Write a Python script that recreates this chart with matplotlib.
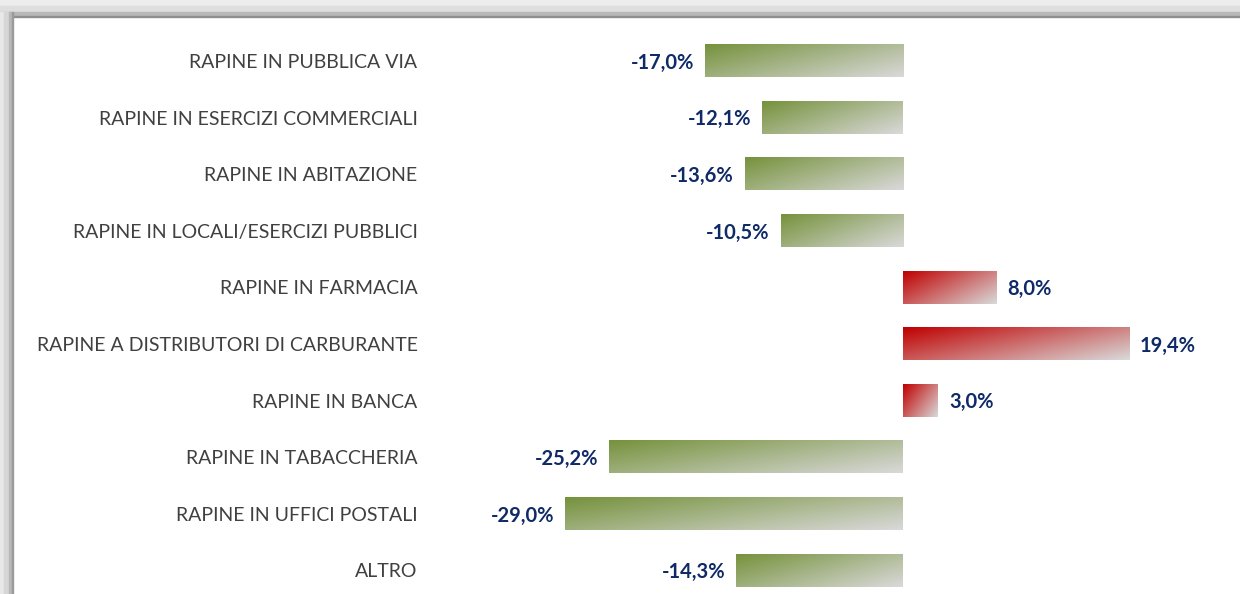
import numpy as np
import matplotlib.pyplot as plt
from matplotlib.colors import LinearSegmentedColormap
from matplotlib.patches import Rectangle

# --- dati ---
categorie = [
    "RAPINE IN PUBBLICA VIA",
    "RAPINE IN ESERCIZI COMMERCIALI",
    "RAPINE IN ABITAZIONE",
    "RAPINE IN LOCALI/ESERCIZI PUBBLICI",
    "RAPINE IN FARMACIA",
    "RAPINE A DISTRIBUTORI DI CARBURANTE",
    "RAPINE IN BANCA",
    "RAPINE IN TABACCHERIA",
    "RAPINE IN UFFICI POSTALI",
    "ALTRO",
]
variazioni = [-17.0, -12.1, -13.6, -10.5, 8.0, 19.4, 3.0, -25.2, -29.0, -14.3]

VERDE = "#76923c"
ROSSO = "#c00000"
GRIGIO = "#d9d9d9"
BLU = "#0f2a66"

plt.rcParams["font.family"] = ["Lato", "DejaVu Sans"]

fig = plt.figure(figsize=(12.4, 5.94), dpi=100)
fig.patch.set_facecolor("white")

# --- cornice ombreggiata (alto e sinistra) ---
W, H = 1240, 594
bande_top = [(0, 6, "#ececec"), (6, 12, "#dedede"), (12, 16, "#b8b8b8"), (16, 17, "#8f8f8f")]
for y0, y1, c in bande_top:
    fig.patches.append(Rectangle((0, 1 - y1 / H), 1, (y1 - y0) / H,
                                 transform=fig.transFigure, color=c, zorder=0))
bande_left = [(0, 4, "#e8e8e8"), (4, 9, "#d6d6d6"), (9, 12, "#b8b8b8"), (12, 13, "#9a9a9a")]
for x0, x1, c in bande_left:
    fig.patches.append(Rectangle((x0 / W, 0), (x1 - x0) / W, 1 - 12 / H,
                                 transform=fig.transFigure, color=c, zorder=0))

# assi: zero a x=903px, 11.65 px per punto percentuale
ax_left, ax_top = 430, 17
ax = fig.add_axes([ax_left / W, 0, 1 - ax_left / W, 1 - ax_top / H])
ax.set_facecolor("none")
scala = 11.65
zero_px = 903
passo = 56.6
primo = 61

# gradiente diagonale: colore pieno in alto a sinistra, grigio in basso a destra
gx, gy = np.meshgrid(np.linspace(0, 1, 200), np.linspace(0, 1, 40))
grad = (gx * 0.6 + gy * 0.4)

altezza = 0.57
for i, v in enumerate(variazioni):
    col = VERDE if v < 0 else ROSSO
    cmap = LinearSegmentedColormap.from_list("g", [col, GRIGIO])
    x0, x1 = min(0, v), max(0, v)
    ax.imshow(grad, cmap=cmap, vmin=0, vmax=1, aspect="auto",
              extent=(x0, x1, i + altezza / 2, i - altezza / 2),
              interpolation="bilinear", zorder=2)
    testo = f"{v:.1f}%".replace(".", ",")
    if v < 0:
        ax.text(v - 0.95, i + 0.03, testo, ha="right", va="center",
                fontsize=14.5, fontweight="bold", color=BLU)
    else:
        ax.text(v + 0.95, i + 0.03, testo, ha="left", va="center",
                fontsize=14.5, fontweight="bold", color=BLU)

ax.set_xlim((ax_left - zero_px) / scala, (W - zero_px) / scala)
ax.set_ylim((H - primo) / passo, -(primo - ax_top) / passo)
ax.set_yticks(range(len(categorie)))
ax.set_yticklabels(categorie, fontsize=14, color="#404040")
ax.tick_params(axis="y", length=0, pad=9)
ax.set_xticks([])
for s in ax.spines.values():
    s.set_visible(False)

fig.savefig("out.png", dpi=100, facecolor="white")
